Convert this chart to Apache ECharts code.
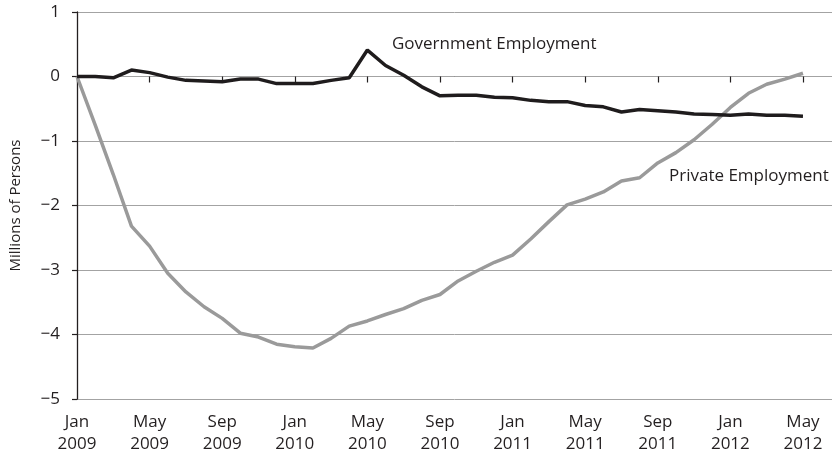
<!DOCTYPE html>
<html>
<head>
<meta charset="utf-8">
<script src="https://cdn.jsdelivr.net/npm/echarts@6/dist/echarts.min.js"></script>
<style>
  html, body { margin: 0; padding: 0; background: #fff; }
  #main { width: 832px; height: 456px; }
</style>
</head>
<body>
<div id="main"></div>
<script>
// monthly, Jan 2009 .. May 2012 (index 0..40)
var tickMonths = ["Jan", "May", "Sep", "Jan", "May", "Sep", "Jan", "May", "Sep", "Jan", "May"];
var tickYears = ["2009", "2009", "2009", "2010", "2010", "2010", "2011", "2011", "2011", "2012", "2012"];
var yTicks = [-5, -4, -3, -2, -1, 0, 1];

var government = [0, 0, -0.02, 0.1, 0.06, -0.01, -0.06, -0.07, -0.08, -0.04, -0.04, -0.11,
  -0.11, -0.11, -0.06, -0.02, 0.41, 0.17, 0.02, -0.16, -0.3, -0.29, -0.29, -0.32,
  -0.33, -0.37, -0.39, -0.39, -0.45, -0.47, -0.55, -0.51, -0.53, -0.55, -0.58, -0.59,
  -0.6, -0.58, -0.6, -0.6, -0.615];
var privateEmp = [0, -0.75, -1.52, -2.32, -2.63, -3.05, -3.34, -3.57, -3.75, -3.98, -4.04, -4.15,
  -4.19, -4.21, -4.06, -3.87, -3.79, -3.69, -3.6, -3.47, -3.38, -3.17, -3.02, -2.88,
  -2.77, -2.52, -2.25, -1.99, -1.9, -1.79, -1.62, -1.57, -1.34, -1.18, -0.98, -0.74,
  -0.48, -0.26, -0.12, -0.04, 0.05];

var chart = echarts.init(document.getElementById("main"));
var font = "Open Sans";
var grey = "#a3a3a3";
var ink = "#231f20";

chart.setOption({
  animation: false,
  grid: { left: 76, right: 0, top: 12, bottom: 57 },
  xAxis: {
    type: "value",
    min: 0, max: 41.6, interval: 4,
    axisLine: { lineStyle: { color: grey, width: 1 } },
    axisTick: { length: 6, lineStyle: { color: ink, width: 1.2 } },
    axisLabel: {
      showMaxLabel: false,
      margin: 12,
      color: ink,
      fontFamily: font,
      fontSize: 17,
      lineHeight: 22,
      formatter: function (v) {
        var k = v / 4;
        if (k !== Math.round(k) || k >= tickMonths.length) return "";
        return tickMonths[k] + "\n" + tickYears[k];
      }
    },
    splitLine: { show: false }
  },
  yAxis: {
    type: "value",
    min: yTicks[0], max: yTicks[yTicks.length - 1], interval: 1,
    name: "Millions of Persons",
    nameLocation: "middle",
    nameGap: 54,
    nameRotate: 90,
    nameTextStyle: { color: ink, fontFamily: font, fontSize: 15 },
    axisLine: { show: true, lineStyle: { color: ink, width: 1.3 } },
    axisTick: { show: true, length: 5, lineStyle: { color: ink, width: 1.2 } },
    axisLabel: {
      margin: 17,
      color: ink,
      fontFamily: font,
      fontSize: 17,
      formatter: function (v) { return v < 0 ? "\u2212" + Math.abs(v) : String(v); }
    },
    splitLine: {
      show: true,
      lineStyle: {
        width: 1,
        color: yTicks.map(function (t) { return t === 0 ? "#3a3a3a" : grey; })
      }
    }
  },
  graphic: [
    { type: "text", left: 392, top: 36, style: { text: "Government Employment", fill: ink, fontFamily: font, fontSize: 17 } },
    { type: "text", left: 669, top: 168, style: { text: "Private Employment", fill: ink, fontFamily: font, fontSize: 17 } }
  ],
  series: [
    {
      name: "Private Employment",
      type: "line",
      symbol: "none",
      lineStyle: { color: "#9a9a9a", width: 3.5 },
      data: privateEmp.map(function (v, i) { return [i, v]; })
    },
    {
      name: "Government Employment",
      type: "line",
      symbol: "none",
      lineStyle: { color: "#1f1c1d", width: 3.5 },
      data: government.map(function (v, i) { return [i, v]; })
    }
  ]
});
</script>
</body>
</html>
